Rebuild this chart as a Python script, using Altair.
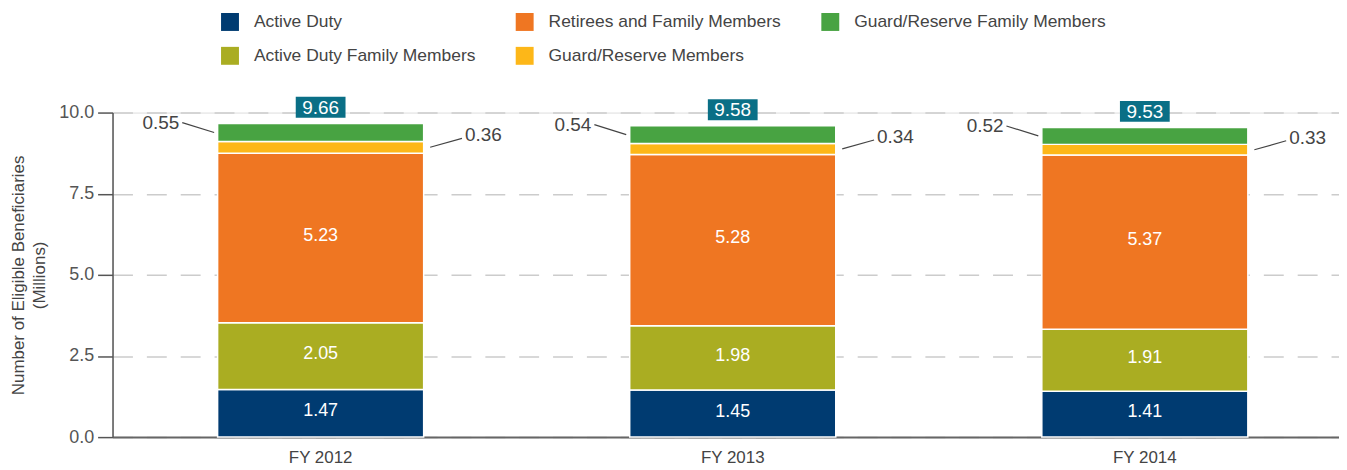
import altair as alt
import pandas as pd

years = ["FY 2012", "FY 2013", "FY 2014"]
categories = ["Active Duty", "Active Duty Family Members", "Retirees and Family Members",
              "Guard/Reserve Members", "Guard/Reserve Family Members"]
active_duty = [1.47, 1.45, 1.41]
ad_family = [2.05, 1.98, 1.91]
retirees = [5.23, 5.28, 5.37]
gr_members = [0.36, 0.34, 0.33]
gr_family = [0.55, 0.54, 0.52]
totals = [9.66, 9.58, 9.53]

colors = ["#003b71", "#aaad22", "#ef7622", "#fdb718", "#48a342"]

series = [active_duty, ad_family, retirees, gr_members, gr_family]
rows = []
for yi, yr in enumerate(years):
    base = 0.0
    for ci, cat in enumerate(categories):
        v = series[ci][yi]
        rows.append({"year": yr, "cat": cat, "value": v, "y0": base, "y1": base + v,
                     "mid": base + v / 2, "label": f"{v:.2f}"})
        base += v
df = pd.DataFrame(rows)
tot = pd.DataFrame({"year": years, "total": totals, "label": [f"{t:.2f}" for t in totals]})

FONT = "Liberation Sans"
xscale = alt.Scale(range=[0, 1246], paddingInner=0.5, paddingOuter=0.255)
X = alt.X("year:N", scale=xscale, sort=years,
          axis=alt.Axis(title=None, labelAngle=0, ticks=False, labelFontSize=17, labelColor="#444",
                        labelFont=FONT, labelPadding=13, domainColor="#666", domainWidth=2,
                        grid=False))

bars = alt.Chart(df).mark_bar(stroke="white", strokeWidth=1.5).encode(
    x=X,
    y=alt.Y("y0:Q", scale=alt.Scale(domain=[0, 10], nice=False),
            axis=alt.Axis(values=[0, 2.5, 5, 7.5, 10], format=".1f",
                          title=["Number of Eligible Beneficiaries", "(Millions)"],
                          titleFont=FONT, titleFontSize=17, titleFontWeight="normal",
                          titleColor="#444", titlePadding=10, titleLineHeight=21,
                          labelFont=FONT, labelFontSize=18, labelColor="#555", labelPadding=4,
                          tickSize=15, tickColor="#555", tickWidth=1.5,
                          domainColor="#555", domainWidth=1.5,
                          grid=True, gridColor="#cccccc", gridDash=[20, 14], gridWidth=1.5)),
    y2="y1:Q",
    color=alt.Color("cat:N", scale=alt.Scale(domain=categories, range=colors),
                    legend=alt.Legend(title=None, orient="none", legendX=109, legendY=-100,
                                      columns=3, columnPadding=40, rowPadding=16,
                                      symbolType="square", symbolSize=324, symbolStrokeWidth=0,
                                      labelFont=FONT, labelFontSize=17.5, labelColor="#444",
                                      labelOffset=15, padding=0, labelLimit=400)),
)

inner = alt.Chart(df).transform_filter(
    alt.FieldOneOfPredicate(field="cat", oneOf=categories[:3])
).mark_text(color="white", fontSize=18, font=FONT, baseline="middle", dy=-2).encode(
    x=X, y="mid:Q", text="label:N")

left_df = df[df["cat"] == "Guard/Reserve Family Members"]
right_df = df[df["cat"] == "Guard/Reserve Members"]

left_rule = alt.Chart(left_df).mark_rule(color="#444", strokeWidth=1.2, xOffset=-107, x2Offset=-139,
                                         yOffset=0, y2Offset=-10).encode(
    x=X, x2="year:N", y="mid:Q", y2="mid:Q")
left_text = alt.Chart(left_df).mark_text(color="#444", fontSize=19, font=FONT, align="right",
                                         baseline="middle", dx=-142, dy=-10).encode(
    x=X, y="mid:Q", text="label:N")
right_rule = alt.Chart(right_df).mark_rule(color="#444", strokeWidth=1.2, xOffset=110, x2Offset=142,
                                           yOffset=0, y2Offset=-9).encode(
    x=X, x2="year:N", y="mid:Q", y2="mid:Q")
right_text = alt.Chart(right_df).mark_text(color="#444", fontSize=19, font=FONT, align="left",
                                           baseline="middle", dx=145, dy=-12).encode(
    x=X, y="mid:Q", text="label:N")

box = alt.Chart(tot).mark_bar(width=50, color="#0a6f86", yOffset=-27, y2Offset=-6).encode(
    x=X, y="total:Q", y2="total:Q")
box_text = alt.Chart(tot).mark_text(color="white", fontSize=19, font=FONT, baseline="middle",
                                    dy=-16).encode(x=X, y="total:Q", text="label:N")

chart = alt.layer(bars, inner, left_rule, left_text, right_rule, right_text, box, box_text).properties(
    width=1232, height=326,
    autosize=alt.AutoSizeParams(type="none"),
    padding={"left": 105, "top": 104, "right": 0, "bottom": 32},
).configure_view(stroke=None).configure(font=FONT)

chart.save("out.html", embed_options={"renderer": "svg", "actions": False})
